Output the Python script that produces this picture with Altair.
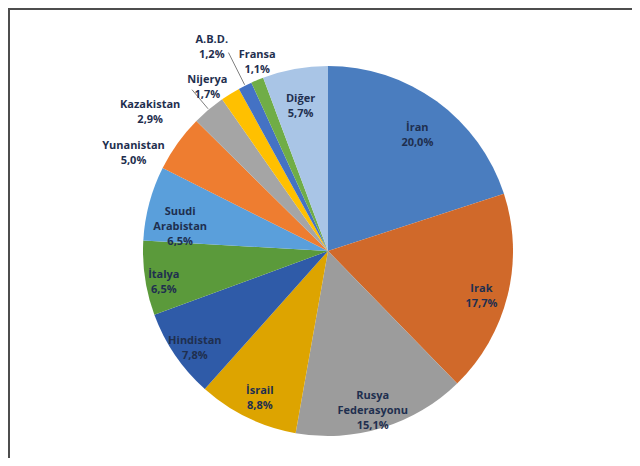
import altair as alt
import pandas as pd

names = ["İran", "Irak", "Rusya Federasyonu", "İsrail", "Hindistan", "İtalya",
         "Suudi Arabistan", "Yunanistan", "Kazakistan", "Nijerya", "A.B.D.",
         "Fransa", "Diğer"]
label_names = ["İran", "Irak", "Rusya\nFederasyonu", "İsrail", "Hindistan", "İtalya",
               "Suudi\nArabistan", "Yunanistan", "Kazakistan", "Nijerya", "A.B.D.",
               "Fransa", "Diğer"]
shares = [20.0, 17.7, 15.1, 8.8, 7.8, 6.5, 6.5, 5.0, 2.9, 1.7, 1.2, 1.1, 5.7]
colors = ["#4A7DBF", "#D0692A", "#9C9C9C", "#DDA400", "#2F5BA8", "#5B9A3B",
          "#5A9FDB", "#EE7D30", "#A5A5A5", "#FFC000", "#4472C4", "#70AD47",
          "#A9C5E6"]

# label layout (style, not data): distance of each label from the centre (px),
# angular nudge from the slice middle (degrees), and whether a leader line is drawn
label_radius = [152, 158, 152, 156, 161, 166, 153, 221, 230, 209, 241, 208, 154]
label_nudge = [0, 0, 0, 0, 0, 0, 0, -7.3, -10.5, -3.4, -2.2, 2.6, 0]
leader = [False] * 8 + [True, False, True, False, False]

cx, cy, R = 320, 243, 185

df = pd.DataFrame({
    "idx": list(range(len(names))),
    "name": names,
    "share": shares,
    "label": [n + "\n" + f"{s:.1f}%".replace(".", ",") for n, s in zip(label_names, shares)],
    "lr": label_radius,
    "nudge": label_nudge,
    "leader": leader,
})

base = alt.Chart(df).transform_window(
    cum="sum(share)", sort=[alt.SortField("idx", order="ascending")], frame=[None, 0]
).transform_calculate(
    mid="datum.cum - datum.share / 2",
    lab="datum.cum - datum.share / 2 + datum.nudge / 3.6",
    ang="(datum.cum - datum.share / 2) / 100 * 2 * PI",
)

theta_scale = alt.Scale(domain=[0, 100])

pie = alt.Chart(df).mark_arc(outerRadius=R, stroke=None).encode(
    theta=alt.Theta("share:Q", stack=True, scale=theta_scale),
    color=alt.Color("name:N", scale=alt.Scale(domain=names, range=colors), legend=None),
    order=alt.Order("idx:Q"),
    x=alt.value(cx),
    y=alt.value(cy),
)

labels = base.mark_text(
    font="Open Sans", fontSize=11, fontWeight="bold", color="#1F2F4F",
    lineBreak="\n", lineHeight=15, align="center", baseline="middle",
).encode(
    theta=alt.Theta("lab:Q", stack=None, scale=theta_scale),
    radius=alt.Radius("lr:Q", scale=None),
    text="label:N",
    x=alt.value(cx),
    y=alt.value(cy),
)

leaders = base.transform_filter("datum.leader").transform_calculate(
    x1=f"{cx} + {R + 1} * sin(datum.ang)",
    y1=f"{cy} - {R + 1} * cos(datum.ang)",
    x2=f"{cx} + (datum.lr - 19) * sin(datum.ang)",
    y2=f"{cy} - (datum.lr - 19) * cos(datum.ang)",
).mark_rule(color="#7F7F7F", strokeWidth=1).encode(
    x=alt.X("x1:Q", scale=None), y=alt.Y("y1:Q", scale=None),
    x2="x2:Q", y2="y2:Q",
)

frame_top = alt.Chart(df).mark_rule(color="#4D4D4D", strokeWidth=2).encode(
    x=alt.value(0), x2=alt.value(624), y=alt.value(1)
)
frame_left = alt.Chart(df).mark_rule(color="#4D4D4D", strokeWidth=2).encode(
    x=alt.value(1), y=alt.value(0), y2=alt.value(450)
)

chart = alt.layer(pie, leaders, labels, frame_top, frame_left).properties(
    width=624, height=450, autosize=alt.AutoSizeParams(type="none"), padding=0,
).configure_view(stroke=None).configure(background="white")

chart.save("out.html", embed_options={"renderer": "svg", "actions": False})
